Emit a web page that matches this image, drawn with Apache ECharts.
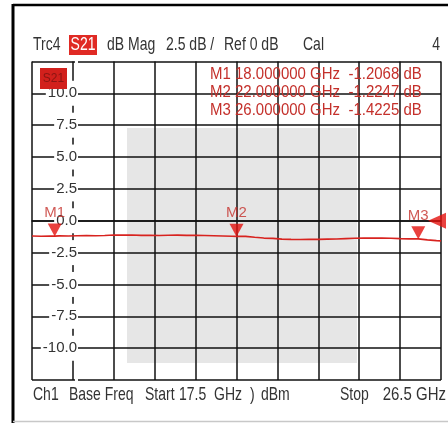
<!DOCTYPE html>
<html><head><meta charset="utf-8">
<script src="https://cdn.jsdelivr.net/npm/echarts@6/dist/echarts.min.js"></script>
<style>html,body{margin:0;padding:0;background:#fff}#c{width:448px;height:423px}</style>
</head><body><div id="c"></div>
<script>
// ---- data ----
const freqGHz = [17.5,17.7,17.9,18.0,18.1,18.3,18.5,18.7,18.9,19.1,19.3,19.5,19.7,19.9,20.1,20.3,20.5,20.7,20.9,21.1,21.3,21.5,21.7,21.9,22.0,22.2,22.4,22.6,22.8,23.0,23.2,23.4,23.6,23.8,24.0,24.2,24.4,24.6,24.8,25.0,25.2,25.4,25.6,25.8,26.0,26.2,26.4,26.5];
const s21dB = [-1.20,-1.22,-1.21,-1.207,-1.19,-1.20,-1.18,-1.17,-1.18,-1.16,-1.12,-1.13,-1.12,-1.15,-1.14,-1.16,-1.14,-1.13,-1.15,-1.14,-1.16,-1.18,-1.20,-1.22,-1.225,-1.23,-1.30,-1.36,-1.38,-1.44,-1.46,-1.47,-1.45,-1.46,-1.44,-1.43,-1.40,-1.37,-1.36,-1.35,-1.36,-1.37,-1.40,-1.42,-1.4225,-1.50,-1.56,-1.58];
const markerNames = ['M1','M2','M3'];
const markerFreq = [18.0, 22.0, 26.0];
const markerDB = [-1.2068, -1.2247, -1.4225];
const yTickLabels = [10.0, 7.5, 5.0, 2.5, 0.0, -2.5, -5.0, -7.5, -10.0];
const refLevel = 0;
const startGHz = 17.5, stopGHz = 26.5;

const RED = '#d8231f';
const TXTRED = '#c4302b';
const F = '"Liberation Sans", Arial, sans-serif';

const chart = echarts.init(document.getElementById('c'), null, {renderer:'canvas'});

function txt(x, y, s, opt) {
  opt = opt || {};
  return {type:'text', x:x, y:y, z: opt.z || 10, scaleY: opt.sy || 1.28,
    style:{text:s, font:(opt.size||14)+'px '+F, fill:opt.fill||'#333',
      align:opt.align||'left', verticalAlign:'middle'}};
}

const tableRows = markerNames.map((n,i)=> n+' '+markerFreq[i].toFixed(6)+' GHz  '+markerDB[i].toFixed(4)+' dB');

const graphics = [
  // watermark grey block
  {type:'rect', z:-1, shape:{x:127,y:128,width:230,height:235}, style:{fill:'#e6e6e6'}},
  // frame
  {type:'line', z:10, shape:{x1:13,y1:4,x2:13,y2:423}, style:{stroke:'#000',lineWidth:3}},
  {type:'line', z:10, shape:{x1:13,y1:5,x2:448,y2:5}, style:{stroke:'#000',lineWidth:2.5}},
  {type:'line', z:10, shape:{x1:13,y1:421.5,x2:448,y2:421.5}, style:{stroke:'#c8c8c8',lineWidth:1.5}},
  // header
  txt(33,45,'Trc4'),
  {type:'rect', z:10, shape:{x:69,y:35,width:28,height:20}, style:{fill:'#e02a24'}},
  txt(83,45,'S21',{fill:'#fff',align:'center'}),
  txt(107,45,'dB Mag'),
  txt(166,45,'2.5 dB /'),
  txt(224,45,'Ref 0 dB'),
  txt(303,45,'Cal'),
  txt(440,45,'4',{align:'right'}),
  // trace tag in plot
  {type:'rect', z:10, shape:{x:40,y:68,width:27,height:21}, style:{fill:'#d2201c'}},
  txt(53.5,78,'S21',{fill:'#8a1512',align:'center',size:12,sy:1.1}),
  // marker table
  txt(210,74,tableRows[0],{fill:TXTRED,size:15,sy:1.15}),
  txt(210,92,tableRows[1],{fill:TXTRED,size:15,sy:1.15}),
  txt(210,110,tableRows[2],{fill:TXTRED,size:15,sy:1.15}),
  // footer
  txt(33,395,'Ch1'),
  txt(69,395,'Base Freq'),
  txt(145,395,'Start'),
  txt(179,395,startGHz.toFixed(1)),
  txt(214,395,'GHz'),
  txt(250,395,')'),
  txt(261,395,'dBm'),
  txt(340,395,'Stop'),
  txt(446,395,stopGHz.toFixed(1)+' GHz',{align:'right',size:15,sy:1.2})
];

const option = {
  animation:false,
  backgroundColor:'#fff',
  grid:{left:32,right:7,top:61.5,bottom:43,containLabel:false},
  xAxis:{type:'value',min:startGHz,max:stopGHz,interval:0.9,
    axisLine:{show:true,lineStyle:{color:'#111',width:1.5}},
    axisTick:{show:false},axisLabel:{show:false},
    splitLine:{show:true,showMinLine:true,showMaxLine:true,lineStyle:{color:'#111',width:1.5}}},
  yAxis:{type:'value',min:-12.5,max:12.5,interval:2.5,position:'left',offset:-41,
    axisLine:{show:false},axisTick:{show:false},
    splitLine:{show:true,showMinLine:true,showMaxLine:true,lineStyle:{color:'#111',width:1.5}},
    axisLabel:{show:true,margin:-5,align:'right',
      fontFamily:'Liberation Sans, Arial, sans-serif',fontSize:15,color:'#333',
      backgroundColor:'#fff',padding:[5,1,5,2],
      formatter:function(v){
        const hit = yTickLabels.find(t=>Math.abs(t-v)<1e-6);
        return hit===undefined ? '' : hit.toFixed(1);
      }}},
  graphic:graphics,
  series:[
    {type:'line',data:freqGHz.map((f,i)=>[f,s21dB[i]]),showSymbol:false,
      lineStyle:{color:RED,width:1.6},z:3,silent:true},
    {type:'scatter',data:markerFreq.map((f,i)=>({name:markerNames[i],value:[f,markerDB[i]]})),
      symbol:'triangle',symbolRotate:180,symbolSize:[14,13],symbolOffset:[0,-6],
      itemStyle:{color:'#e4120e'},z:5,
      label:{show:true,position:'top',distance:3,formatter:'{b}',color:TXTRED,fontSize:15,fontFamily:'Liberation Sans, Arial, sans-serif'}},
    {type:'scatter',data:[[stopGHz,refLevel]],clip:false,
      symbol:'triangle',symbolRotate:90,symbolSize:[16,18],symbolOffset:[-4,0],
      itemStyle:{color:'#e4120e'},z:5}
  ]
};
chart.setOption(option);
</script></body></html>
